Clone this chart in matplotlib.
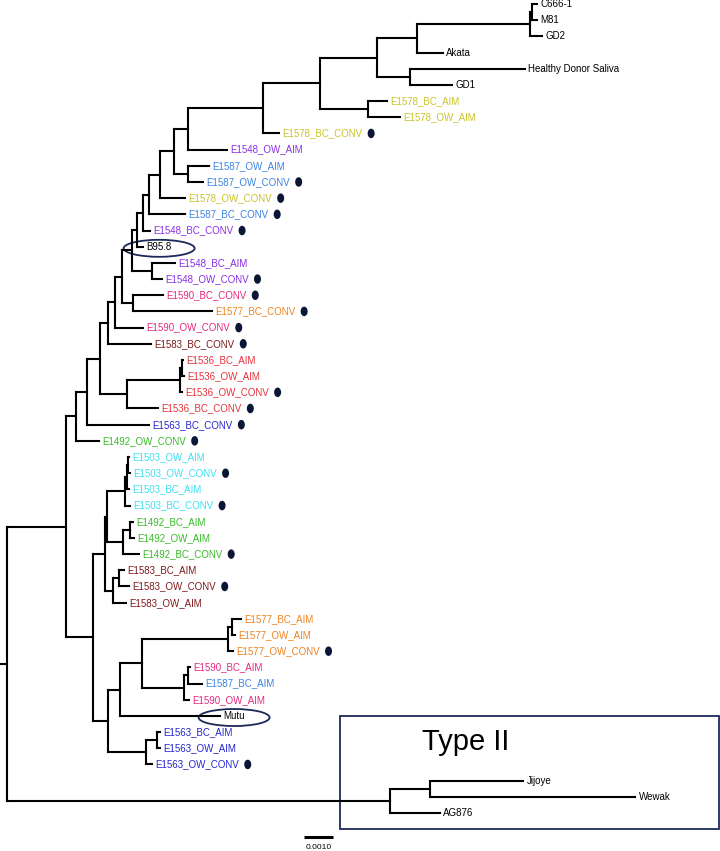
import matplotlib
matplotlib.use("Agg")
import matplotlib.pyplot as plt
from matplotlib.patches import Ellipse, Rectangle

plt.rcParams["font.family"] = ["Liberation Sans", "DejaVu Sans"]

# tips, listed top to bottom
leaf_names = [
    "C666-1", "M81", "GD2", "Akata", "Healthy Donor Saliva", "GD1",
    "E1578_BC_AIM", "E1578_OW_AIM", "E1578_BC_CONV", "E1548_OW_AIM",
    "E1587_OW_AIM", "E1587_OW_CONV", "E1578_OW_CONV", "E1587_BC_CONV",
    "E1548_BC_CONV", "B95.8", "E1548_BC_AIM", "E1548_OW_CONV",
    "E1590_BC_CONV", "E1577_BC_CONV", "E1590_OW_CONV", "E1583_BC_CONV",
    "E1536_BC_AIM", "E1536_OW_AIM", "E1536_OW_CONV", "E1536_BC_CONV",
    "E1563_BC_CONV", "E1492_OW_CONV", "E1503_OW_AIM", "E1503_OW_CONV",
    "E1503_BC_AIM", "E1503_BC_CONV", "E1492_BC_AIM", "E1492_OW_AIM",
    "E1492_BC_CONV", "E1583_BC_AIM", "E1583_OW_CONV", "E1583_OW_AIM",
    "E1577_BC_AIM", "E1577_OW_AIM", "E1577_OW_CONV", "E1590_BC_AIM",
    "E1587_BC_AIM", "E1590_OW_AIM", "Mutu", "E1563_BC_AIM",
    "E1563_OW_AIM", "E1563_OW_CONV", "Jijoye", "Wewak", "AG876",
]
leaf_parent = [
    "n19", "n19", "n18", "n17", "n20", "n20",
    "n21", "n21", "n14", "n13",
    "n22", "n22", "n11", "n10",
    "n09", "n08", "n23", "n23",
    "n24", "n24", "n05", "n04",
    "n27", "n27", "n26", "n25",
    "n02", "n01", "n33", "n33",
    "n32", "n31", "n35", "n35",
    "n34", "n37", "n37", "n36",
    "n42", "n42", "n41", "n44",
    "n44", "n43", "n39", "n46",
    "n46", "n45", "t2a", "t2a", "t2",
]
# distance from root (substitutions / site)
leaf_depth = [
    0.01828, 0.01828, 0.01845, 0.01503, 0.01786, 0.01534,
    0.01310, 0.01355, 0.00938, 0.00759,
    0.00697, 0.00676, 0.00614, 0.00614,
    0.00493, 0.00469, 0.00579, 0.00534,
    0.00538, 0.00707, 0.00469, 0.00497,
    0.00607, 0.00610, 0.00603, 0.00521,
    0.00490, 0.00317, 0.00421, 0.00424,
    0.00419, 0.00424, 0.00434, 0.00438,
    0.00455, 0.00403, 0.00421, 0.00410,
    0.00807, 0.00786, 0.00779, 0.00631,
    0.00672, 0.00628, 0.00734, 0.00528,
    0.00528, 0.00500, 0.01779, 0.02166, 0.01493,
]

# internal nodes
node_names = [
    "root", "t2", "t2a", "t1",
    "n01", "n02", "n03", "n04", "n05", "n06", "n07", "n08", "n09", "n10",
    "n11", "n12", "n13", "n14", "n15", "n16", "n17", "n18", "n19", "n20",
    "n21", "n22", "n23", "n24", "n25", "n26", "n27", "n28", "n29", "n30",
    "n31", "n32", "n33", "n34", "n35", "n36", "n37", "n38", "n39", "n40",
    "n41", "n42", "n43", "n44", "n45", "n46",
]
node_parent = [
    None, "root", "t2", "root",
    "t1", "n01", "n02", "n03", "n04", "n05", "n06", "n07", "n08", "n09",
    "n10", "n11", "n12", "n13", "n14", "n15", "n16", "n17", "n18", "n16",
    "n15", "n12", "n07", "n06", "n03", "n25", "n26", "t1", "n28", "n29",
    "n30", "n31", "n32", "n30", "n34", "n29", "n36", "n28", "n38", "n39",
    "n40", "n41", "n40", "n43", "n38", "n45",
]
node_depth = [
    0.0, 0.01321, 0.01459, 0.00203,
    0.00238, 0.00276, 0.00321, 0.00348, 0.00372, 0.00397, 0.00431, 0.00448, 0.00469, 0.00490,
    0.00528, 0.00576, 0.00624, 0.00883, 0.01079, 0.01276, 0.01414, 0.01803, 0.01810, 0.01390,
    0.01245, 0.00624, 0.00500, 0.00434, 0.00414, 0.00597, 0.00603, 0.00297, 0.00338, 0.00345,
    0.00407, 0.00414, 0.00417, 0.00400, 0.00424, 0.00366, 0.00386, 0.00348, 0.00390, 0.00466,
    0.00762, 0.00776, 0.00610, 0.00624, 0.00479, 0.00517,
]

patient_colors = {
    "E1578": "#c9c42a", "E1548": "#8a2ee6", "E1587": "#3a84e4",
    "E1590": "#e4287e", "E1577": "#f0821e", "E1583": "#7e1a1a",
    "E1536": "#e6323a", "E1563": "#2626cc", "E1492": "#36bc26",
    "E1503": "#3ee0f2",
}
circled = ["B95.8", "Mutu"]
type2_leaves = ["Jijoye", "Wewak", "AG876"]
scale_len = 0.001
scale_label = "0.0010"

navy = "#1c2a5a"
dot_color = "#0b1636"

depth = dict(zip(leaf_names, leaf_depth))
depth.update(zip(node_names, node_depth))
parent = dict(zip(leaf_names, leaf_parent))
parent.update(zip(node_names, node_parent))

ypos = {n: i for i, n in enumerate(leaf_names)}
children = {n: [] for n in node_names}
for n, p in parent.items():
    if p is not None:
        children[p].append(n)


def get_y(n):
    if n not in ypos:
        ys = [get_y(c) for c in children[n]]
        ypos[n] = (min(ys) + max(ys)) / 2
    return ypos[n]


for n in node_names:
    get_y(n)

fig = plt.figure(figsize=(7.2, 8.51), dpi=100)
ax = fig.add_axes([0, 0, 1, 1])
xlim = (-0.000241, 0.024586)
ylim = (52.35, -0.247)
ax.set_xlim(*xlim)
ax.set_ylim(*ylim)
ax.axis("off")

px_x = (xlim[1] - xlim[0]) / 720
px_y = (ylim[0] - ylim[1]) / 851

lw = 1.5
kw = dict(color="black", lw=lw, solid_capstyle="projecting")

# vertical connectors
for n in node_names:
    ys = [ypos[c] for c in children[n]]
    ax.plot([depth[n], depth[n]], [min(ys), max(ys)], **kw)
# horizontal branches
for n, p in parent.items():
    if p is not None:
        ax.plot([depth[p], depth[n]], [ypos[n], ypos[n]], **kw)
# root stub
ax.plot([-7 * px_x, 0], [ypos["root"]] * 2, **kw)

texts = {}
for name in leaf_names:
    col = patient_colors.get(name[:5], "black")
    texts[name] = ax.text(depth[name] + 3.5 * px_x, ypos[name], name,
                          color=col, fontsize=7, va="center", ha="left")

fig.canvas.draw()
renderer = fig.canvas.get_renderer()
inv = ax.transData.inverted()

for name, t in texts.items():
    bb = t.get_window_extent(renderer)
    (x0, _), (x1, _) = inv.transform([(bb.x0, 0), (bb.x1, 0)])
    if name.endswith("CONV"):
        ax.add_patch(Ellipse((x1 + 8.5 * px_x, ypos[name]), 7 * px_x, 9.5 * px_y,
                             color=dot_color, lw=0))
    if name in circled:
        ax.add_patch(Ellipse(((x0 + x1) / 2, ypos[name] + 0.1), 71 * px_x, 17 * px_y,
                             fill=False, ec=navy, lw=1.3))

# Type II box
t2_top = ypos[type2_leaves[0]]
t2_bot = ypos[type2_leaves[-1]]
bx0 = depth["t2"] - 50 * px_x
by0 = t2_top - 4.0
ax.add_patch(Rectangle((bx0, by0), xlim[1] - 1.5 * px_x - bx0, t2_bot + 1.0 - by0,
                       fill=False, ec=navy, lw=1.3))
ax.text(bx0 + 82 * px_x, by0 + 2.1, "Type II", fontsize=21, va="baseline", ha="left")

# scale bar
sx0 = 0.01024
sy = 51.48
ax.plot([sx0, sx0 + scale_len], [sy, sy], color="black", lw=2.2, solid_capstyle="butt")
ax.text(sx0 + scale_len / 2, sy + 0.66, scale_label, fontsize=6, ha="center", va="center")

fig.savefig("out.png", dpi=100)
